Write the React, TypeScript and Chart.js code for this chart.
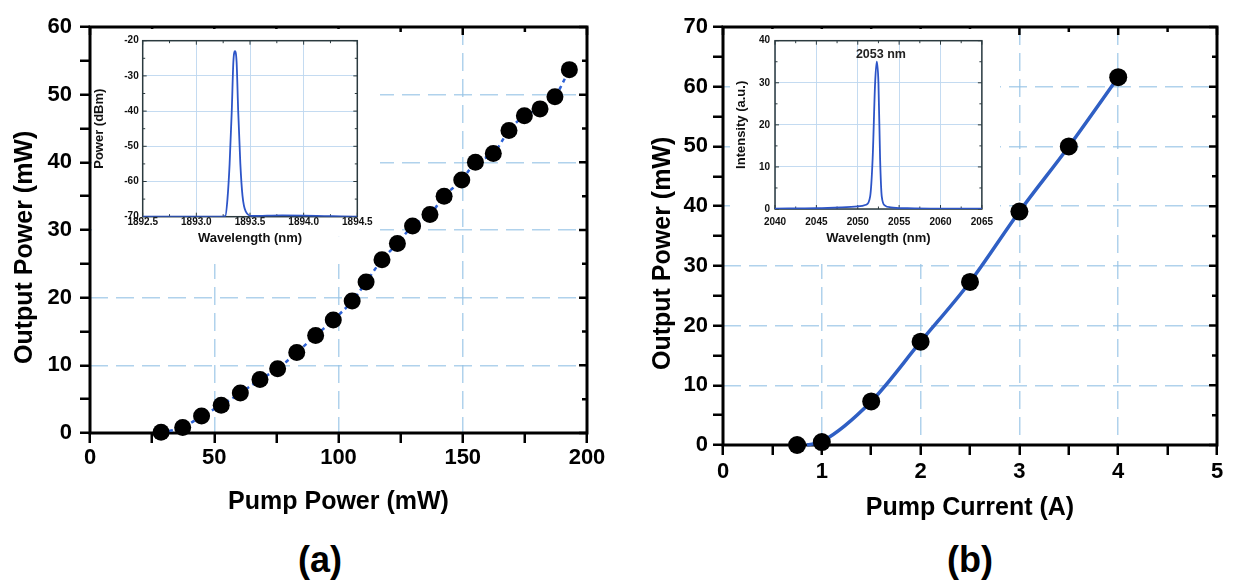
import React, { useEffect, useRef } from 'react';
import { Chart, registerables } from 'chart.js';

Chart.register(...registerables);

const FONT = '"Liberation Sans", Arial, Helvetica, sans-serif';

// ---------- (a) output power vs pump power ----------
const pumpPowerMW = [28.6, 37.3, 44.9, 52.8, 60.5, 68.4, 75.5, 83.2, 90.8, 97.9, 105.5, 111.1, 117.5, 123.7, 129.8, 136.8, 142.5, 149.6, 155.1, 162.3, 168.6, 174.8, 181.1, 187.1, 192.9];
const outputPowerA = [0.1, 0.8, 2.5, 4.1, 5.9, 7.9, 9.5, 11.9, 14.4, 16.7, 19.5, 22.3, 25.6, 28.0, 30.6, 32.3, 35.0, 37.4, 40.0, 41.3, 44.7, 46.9, 47.9, 49.7, 53.7];

// inset (a): spectrum
const wavelengthA = [1892.5, 1893.2, 1893.27, 1893.29, 1893.31, 1893.33, 1893.345, 1893.36, 1893.375, 1893.39, 1893.41, 1893.43, 1893.46, 1893.52, 1893.8, 1894.5];
const spectrumA = [-70, -70, -69.8, -65, -55, -40, -26, -23, -26, -40, -55, -64, -68.5, -69.8, -69.6, -70];

// ---------- (b) output power vs pump current ----------
const pumpCurrentA = [0.75, 1, 1.5, 2, 2.5, 3, 3.5, 4];
const outputPowerB = [0, 0.5, 7.3, 17.3, 27.3, 39.1, 50.0, 61.6];
const fitCurrent = [0.85, 1, 1.5, 2, 2.5, 3, 3.5, 4];
const fitPowerB = [0, 0.6, 7.3, 17.3, 27.3, 39.1, 50.0, 61.6];

// inset (b): spectrum
const wavelengthB = [2040, 2045, 2048, 2050, 2051, 2051.5, 2051.8, 2052.1, 2052.3, 2052.5, 2052.7, 2052.9, 2053.3, 2054, 2056, 2060, 2065];
const spectrumB = [0.1, 0.2, 0.4, 0.6, 1, 3, 12, 30, 35, 30, 12, 3, 0.8, 0.4, 0.2, 0.1, 0.1];
const peakLabel = '2053 nm';
const peakLabelX = 2052.8;
const peakLabelY = 36.6;

const GRID_BLUE = 'rgba(150,195,230,0.75)';
const INSET_GRID = 'rgba(190,215,240,0.9)';

const isMul = (v: number, step: number) => Math.abs(v / step - Math.round(v / step)) < 1e-6;
const pts = (xs: number[], ys: number[]) => xs.map((x, i) => ({ x, y: ys[i] }));
const bold = (size: number) => ({ family: FONT, size, weight: 'bold' as const });

const framePlugin = {
  id: 'frame',
  beforeDatasetsDraw(chart: any, _a: any, o: any) {
    const { ctx, chartArea: a } = chart;
    const xs = chart.scales.x;
    const ys = chart.scales.y;
    ctx.save();
    ctx.strokeStyle = o.color;
    ctx.lineWidth = o.tickWidth;
    ctx.beginPath();
    for (const t of xs.ticks) {
      const p = xs.getPixelForValue(t.value);
      const len = isMul(t.value, o.xMajor) ? o.major : o.minor;
      ctx.moveTo(p, a.top);
      ctx.lineTo(p, a.top + len);
      if (o.allSides) {
        ctx.moveTo(p, a.bottom);
        ctx.lineTo(p, a.bottom - len);
      }
    }
    for (const t of ys.ticks) {
      const p = ys.getPixelForValue(t.value);
      const len = isMul(t.value, o.yMajor) ? o.major : o.minor;
      ctx.moveTo(a.right, p);
      ctx.lineTo(a.right - len, p);
      if (o.allSides) {
        ctx.moveTo(a.left, p);
        ctx.lineTo(a.left + len, p);
      }
    }
    ctx.stroke();
    ctx.lineWidth = o.width;
    ctx.strokeRect(a.left, a.top, a.right - a.left, a.bottom - a.top);
    ctx.restore();
  },
};

// white backdrop for the insets, leaving the lower-right corner see-through
const insetBgPlugin = {
  id: 'insetBg',
  beforeDraw(chart: any) {
    const { ctx, chartArea: a, width, height } = chart;
    ctx.save();
    ctx.fillStyle = '#fff';
    ctx.fillRect(0, 0, width, a.bottom + 20);
    ctx.fillRect(0, a.bottom + 20, a.right - 15, height - a.bottom - 20);
    ctx.restore();
  },
};

const peakLabelPlugin = {
  id: 'peakLabel',
  afterDatasetsDraw(chart: any, _a: any, o: any) {
    if (!o || !o.text) return;
    const { ctx } = chart;
    const x = chart.scales.x.getPixelForValue(o.x);
    const y = chart.scales.y.getPixelForValue(o.y);
    ctx.save();
    ctx.font = `bold ${o.size}px ${FONT}`;
    ctx.fillStyle = '#222';
    ctx.textAlign = 'center';
    ctx.textBaseline = 'middle';
    ctx.fillText(o.text, x, y);
    ctx.restore();
  },
};

function mainConfig(p: any): any {
  return {
    type: 'scatter',
    data: {
      datasets: [
        {
          label: 'measured',
          data: pts(p.px, p.py),
          pointRadius: p.radius,
          pointHoverRadius: p.radius,
          backgroundColor: '#000',
          borderColor: '#000',
          borderWidth: 0,
          showLine: false,
          clip: false,
        },
        {
          label: 'line',
          data: pts(p.lx, p.ly),
          showLine: true,
          pointRadius: 0,
          borderColor: p.lineColor,
          borderWidth: p.lineWidth,
          borderDash: p.dash,
          cubicInterpolationMode: 'monotone',
          clip: false,
        },
      ],
    },
    options: {
      responsive: false,
      animation: false,
      events: [],
      layout: { padding: { left: 0, top: 27, right: p.padRight, bottom: 0 } },
      plugins: {
        legend: { display: false },
        tooltip: { enabled: false },
        frame: { color: '#000', width: 3, tickWidth: 2.5, major: 8, minor: 5, xMajor: p.xMajor, yMajor: p.yMajor, allSides: false },
      },
      scales: {
        x: {
          type: 'linear',
          min: p.xMin,
          max: p.xMax,
          afterFit: (s: any) => { s.height = p.xAxisHeight; },
          ticks: {
            stepSize: p.xStep,
            autoSkip: false,
            maxRotation: 0,
            color: '#000',
            font: bold(22),
            padding: p.xTickPad,
            callback: (v: any) => (isMul(Number(v), p.xMajor) ? String(Math.round(Number(v) * 100) / 100) : ''),
          },
          grid: {
            color: (c: any) => (c.tick && isMul(c.tick.value, p.xMajor) && c.tick.value > p.xMin && c.tick.value < p.xMax ? GRID_BLUE : 'rgba(0,0,0,0)'),
            lineWidth: 1.5,
            tickColor: '#000',
            tickLength: 10,
            tickWidth: 2.5,
          },
          border: { display: false, dash: [18, 8] },
          title: { display: true, text: p.xTitle, color: '#000', font: bold(25), padding: { top: 0, bottom: p.xTitlePad } },
        },
        y: {
          type: 'linear',
          min: 0,
          max: p.yMax,
          afterFit: (s: any) => { s.width = p.yAxisWidth; },
          ticks: {
            stepSize: p.yStep,
            autoSkip: false,
            color: '#000',
            font: bold(22),
            padding: p.yTickPad,
            callback: (v: any) => (isMul(Number(v), p.yMajor) ? String(v) : ''),
          },
          grid: {
            color: (c: any) => (c.tick && isMul(c.tick.value, p.yMajor) && c.tick.value > 0 && c.tick.value < p.yMax ? GRID_BLUE : 'rgba(0,0,0,0)'),
            lineWidth: 1.5,
            tickColor: '#000',
            tickLength: 10,
            tickWidth: 2.5,
          },
          border: { display: false, dash: [18, 8] },
          title: { display: true, text: p.yTitle, color: '#000', font: bold(25), padding: { top: p.yTitlePad, bottom: 0 } },
        },
      },
    },
    plugins: [framePlugin],
  };
}

function insetConfig(p: any): any {
  return {
    type: 'scatter',
    data: {
      datasets: [
        {
          label: 'spectrum',
          data: pts(p.lx, p.ly),
          showLine: true,
          pointRadius: 0,
          borderColor: '#2d55c8',
          borderWidth: 1.8,
          cubicInterpolationMode: 'monotone',
        },
      ],
    },
    options: {
      responsive: false,
      animation: false,
      events: [],
      layout: { padding: { left: 0, top: p.padTop, right: p.padRight, bottom: 0 } },
      plugins: {
        legend: { display: false },
        tooltip: { enabled: false },
        frame: { color: '#2b3a3f', width: 1.5, tickWidth: 1, major: 4, minor: 2.5, xMajor: p.xMajor, yMajor: p.yMajor, allSides: true },
        peakLabel: p.peak || {},
      },
      scales: {
        x: {
          type: 'linear',
          min: p.xMin,
          max: p.xMax,
          afterFit: (s: any) => { s.height = p.xAxisHeight; },
          ticks: {
            stepSize: p.xStep,
            autoSkip: false,
            maxRotation: 0,
            color: '#111',
            font: bold(10),
            padding: p.xTickPad,
            callback: (v: any) => (isMul(Number(v), p.xMajor) ? Number(v).toFixed(p.xDec) : ''),
          },
          grid: {
            color: (c: any) => (c.tick && isMul(c.tick.value, p.xMajor) ? INSET_GRID : 'rgba(0,0,0,0)'),
            lineWidth: 1,
            drawTicks: false,
          },
          border: { display: false },
          title: { display: true, text: p.xTitle, color: '#111', font: bold(13), padding: { top: 0, bottom: p.xTitlePad } },
        },
        y: {
          type: 'linear',
          min: p.yMin,
          max: p.yMax,
          afterFit: (s: any) => { s.width = p.yAxisWidth; },
          ticks: {
            stepSize: p.yStep,
            autoSkip: false,
            color: '#111',
            font: bold(10),
            padding: p.yTickPad,
            callback: (v: any) => (isMul(Number(v), p.yMajor) ? String(v) : ''),
          },
          grid: {
            color: (c: any) => (c.tick && isMul(c.tick.value, p.yMajor) ? INSET_GRID : 'rgba(0,0,0,0)'),
            lineWidth: 1,
            drawTicks: false,
          },
          border: { display: false },
          title: { display: true, text: p.yTitle, color: '#111', font: bold(13), padding: { top: p.yTitlePad, bottom: 0 } },
        },
      },
    },
    plugins: [insetBgPlugin, framePlugin, peakLabelPlugin],
  };
}

export default function App() {
  const mainA = useRef<HTMLCanvasElement>(null);
  const mainB = useRef<HTMLCanvasElement>(null);
  const insA = useRef<HTMLCanvasElement>(null);
  const insB = useRef<HTMLCanvasElement>(null);

  useEffect(() => {
    const charts: Chart[] = [];
    charts.push(new Chart(mainA.current as HTMLCanvasElement, mainConfig({
      px: pumpPowerMW, py: outputPowerA, lx: pumpPowerMW, ly: outputPowerA,
      radius: 8.5, lineColor: '#2f63d6', lineWidth: 2.5, dash: [4, 4],
      xMin: 0, xMax: 200, xStep: 25, xMajor: 50, yMax: 60, yStep: 5, yMajor: 10,
      xTitle: 'Pump Power (mW)', yTitle: 'Output Power (mW)     ',
      padRight: 33, xAxisHeight: 97, yAxisWidth: 90,
      xTickPad: 2, yTickPad: 8, xTitlePad: 13, yTitlePad: 10,
    })));
    charts.push(new Chart(mainB.current as HTMLCanvasElement, mainConfig({
      px: pumpCurrentA, py: outputPowerB, lx: fitCurrent, ly: fitPowerB,
      radius: 9, lineColor: '#2f5fc4', lineWidth: 3.5, dash: [],
      xMin: 0, xMax: 5, xStep: 0.5, xMajor: 1, yMax: 70, yStep: 5, yMajor: 10,
      xTitle: 'Pump Current (A)', yTitle: 'Output Power (mW)     ',
      padRight: 24, xAxisHeight: 85, yAxisWidth: 93,
      xTickPad: 4, yTickPad: 5, xTitlePad: 7, yTitlePad: 18,
    })));
    charts.push(new Chart(insA.current as HTMLCanvasElement, insetConfig({
      lx: wavelengthA, ly: spectrumA,
      xMin: 1892.5, xMax: 1894.5, xStep: 0.25, xMajor: 0.5, xDec: 1,
      yMin: -70, yMax: -20, yStep: 5, yMajor: 10,
      xTitle: 'Wavelength (nm)', yTitle: 'Power (dBm)',
      padTop: 11.7, padRight: 22.7, xAxisHeight: 47.3, yAxisWidth: 50.7,
      xTickPad: 0, yTickPad: 4, xTitlePad: 18, yTitlePad: 0,
    })));
    charts.push(new Chart(insB.current as HTMLCanvasElement, insetConfig({
      lx: wavelengthB, ly: spectrumB,
      xMin: 2040, xMax: 2065, xStep: 2.5, xMajor: 5, xDec: 0,
      yMin: 0, yMax: 40, yStep: 5, yMajor: 10,
      xTitle: 'Wavelength (nm)', yTitle: 'Intensity (a.u.)',
      padTop: 11.7, padRight: 14, xAxisHeight: 55, yAxisWidth: 45,
      xTickPad: 7, yTickPad: 5, xTitlePad: 18, yTitlePad: 4,
      peak: { text: peakLabel, x: peakLabelX, y: peakLabelY, size: 12.5 },
    })));
    return () => { charts.forEach((c) => c.destroy()); };
  }, []);

  const abs = (left: number, top: number, extra: any = {}) => ({ position: 'absolute' as const, left, top, ...extra });
  const panelLabel = { width: 100, textAlign: 'center' as const, font: `bold 36px ${FONT}`, lineHeight: '40px', color: '#000' };

  return (
    <div style={{ position: 'fixed', left: 0, top: 0, width: 1241, height: 584, background: '#fff', overflow: 'hidden' }}>
      <canvas ref={mainA} width={620} height={530} style={abs(0, 0, { width: 620, height: 530 })} />
      <canvas ref={mainB} width={611} height={530} style={abs(630, 0, { width: 611, height: 530 })} />
      <canvas ref={insA} width={288} height={235} style={abs(92, 29, { width: 288, height: 235 })} />
      <canvas ref={insB} width={270} height={235} style={abs(730, 29, { width: 270, height: 235 })} />
      <div style={abs(270, 540, panelLabel)}>(a)</div>
      <div style={abs(920, 540, panelLabel)}>(b)</div>
    </div>
  );
}
